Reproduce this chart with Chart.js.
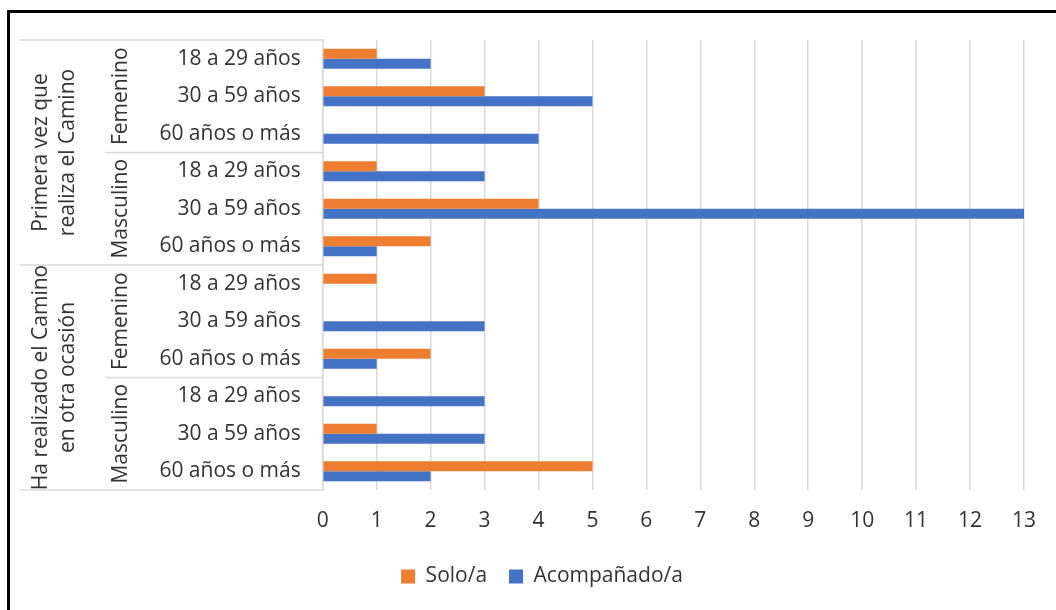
<!DOCTYPE html>
<html>
<head>
<meta charset="utf-8">
<script src="https://cdn.jsdelivr.net/npm/chart.js@4/dist/chart.umd.min.js"></script>
<style>
  html, body { margin: 0; padding: 0; background: #fff; overflow: hidden; }
  #wrap { position: relative; width: 1056px; height: 610px; }
  #frame { position: absolute; left: 7px; top: 10px; width: 1200px; height: 800px;
           border-left: 3px solid #000; border-top: 3px solid #000; pointer-events: none; }
</style>
</head>
<body>
<div id="wrap">
  <canvas id="c" width="1056" height="610"></canvas>
  <div id="frame"></div>
</div>
<script>
// ---- data ----
const categories = ["18 a 29 años", "30 a 59 años", "60 años o más",
                    "18 a 29 años", "30 a 59 años", "60 años o más",
                    "18 a 29 años", "30 a 59 años", "60 años o más",
                    "18 a 29 años", "30 a 59 años", "60 años o más"];
const sexGroups = ["Femenino", "Masculino", "Femenino", "Masculino"];
const experienceGroups = [["Primera vez que", "realiza el Camino"],
                          ["Ha realizado el Camino", "en otra ocasión"]];
const soloValues = [1, 3, 0, 1, 4, 2, 1, 0, 2, 0, 1, 5];
const acompValues = [2, 5, 4, 3, 13, 1, 0, 3, 1, 3, 3, 2];
const xTicks = [0, 1, 2, 3, 4, 5, 6, 7, 8, 9, 10, 11, 12, 13];
const seriesNames = ["Solo/a", "Acompañado/a"];

const FONT = "'Open Sans', 'Liberation Sans', sans-serif";
const FSIZE = 21;
const TEXT = "#333333";
const LINE = "#d9d9d9";

const groupPlugin = {
  id: "groupLabels",
  afterLayout(chart) {
    if (chart.legend) { chart.legend.left += 30; chart.legend.right += 30; }
  },
  afterDraw(chart) {
    const ctx = chart.ctx;
    const y = chart.scales.y;
    const left = chart.chartArea.left;
    const n = categories.length;
    const half = (y.getPixelForValue(1) - y.getPixelForValue(0)) / 2;
    const edge = i => y.getPixelForValue(i) - half; // top edge of row i
    ctx.save();
    ctx.strokeStyle = LINE;
    ctx.lineWidth = 1.5;
    for (let g = 0; g <= sexGroups.length; g++) {
      const row = g * 3;
      const yy = row < n ? edge(row) : edge(n - 1) + 2 * half;
      const x0 = (g % 2 === 0) ? 20 : 105;
      ctx.beginPath();
      ctx.moveTo(x0, yy);
      ctx.lineTo(left, yy);
      ctx.stroke();
    }
    ctx.fillStyle = TEXT;
    ctx.font = FSIZE + "px " + FONT;
    ctx.textAlign = "center";
    ctx.textBaseline = "middle";
    sexGroups.forEach((s, g) => {
      const cy = (y.getPixelForValue(g * 3) + y.getPixelForValue(g * 3 + 2)) / 2;
      ctx.save();
      ctx.translate(121, cy);
      ctx.rotate(-Math.PI / 2);
      ctx.fillText(s, 0, 0);
      ctx.restore();
    });
    experienceGroups.forEach((lines, g) => {
      const cy = (y.getPixelForValue(g * 6) + y.getPixelForValue(g * 6 + 5)) / 2;
      ctx.save();
      ctx.translate(0, cy);
      ctx.rotate(-Math.PI / 2);
      ctx.fillText(lines[0], 0, 41);
      ctx.fillText(lines[1], 0, 68);
      ctx.restore();
    });
    ctx.restore();
  }
};

new Chart(document.getElementById("c"), {
  type: "bar",
  data: {
    labels: categories,
    datasets: [
      { label: seriesNames[0], data: soloValues, backgroundColor: "#ED7D31",
        categoryPercentage: 0.53, barPercentage: 1.0 },
      { label: seriesNames[1], data: acompValues, backgroundColor: "#4472C4",
        categoryPercentage: 0.53, barPercentage: 1.0 }
    ]
  },
  options: {
    indexAxis: "y",
    responsive: false,
    animation: false,
    devicePixelRatio: 1,
    layout: { padding: { left: 0, top: 40, right: 32, bottom: 13 } },
    plugins: {
      legend: {
        position: "bottom",
        labels: { font: { family: FONT, size: FSIZE }, color: TEXT,
                  boxWidth: 14, boxHeight: 14, padding: 22 }
      },
      tooltip: { enabled: false }
    },
    scales: {
      x: {
        min: 0, max: 13,
        afterBuildTicks(scale) { scale.ticks = xTicks.map(v => ({ value: v })); },
        afterFit(scale) { scale.height = 54; },
        grid: { color: LINE, lineWidth: 1.5, drawTicks: false },
        border: { display: false },
        ticks: { font: { family: FONT, size: FSIZE }, color: TEXT, padding: 18 }
      },
      y: {
        afterFit(scale) { scale.width = 322.7; },
        grid: { display: false, drawTicks: false },
        border: { display: true, color: LINE, width: 1.5 },
        ticks: { font: { family: FONT, size: FSIZE }, color: TEXT, padding: 22 }
      }
    }
  },
  plugins: [groupPlugin]
});
</script>
</body>
</html>
